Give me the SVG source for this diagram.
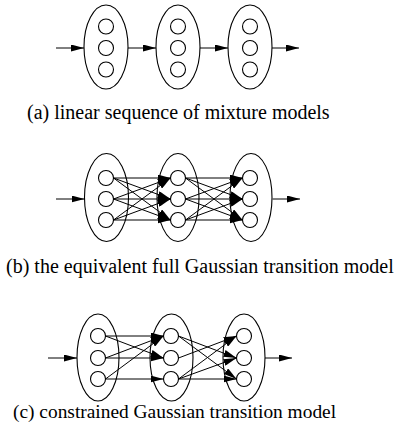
<svg xmlns="http://www.w3.org/2000/svg" width="394" height="437" viewBox="0 0 394 437">
<defs>
<marker id="ah" markerWidth="13" markerHeight="7" refX="13" refY="3.5" orient="auto" markerUnits="userSpaceOnUse">
<path d="M0,0 L13,3.5 L0,7 z" fill="#000"/>
</marker>
<style>
.el{fill:none;stroke:#000;stroke-width:1.1}
.c{fill:#fff;stroke:#000;stroke-width:1.1}
.e{fill:none;stroke:#000;stroke-width:1;marker-end:url(#ah)}
.t{font-family:"Liberation Serif",serif;font-size:20px;fill:#000}
</style>
</defs>
<rect width="394" height="437" fill="#fff"/>
<g id="connectors">
<!-- panel a -->
<line class="e" x1="56" y1="48" x2="84" y2="48"/>
<line class="e" x1="128" y1="48" x2="156" y2="48"/>
<line class="e" x1="200" y1="48" x2="228" y2="48"/>
<line class="e" x1="272" y1="48" x2="299" y2="48"/>
<!-- panel b -->
<line class="e" x1="56" y1="199" x2="84.5" y2="199"/>
<line class="e" x1="272.5" y1="199" x2="300" y2="199"/>
<line class="e" x1="113.5" y1="178" x2="170.5" y2="178"/>
<line class="e" x1="113.5" y1="178" x2="170.5" y2="199"/>
<line class="e" x1="113.5" y1="178" x2="170.5" y2="220"/>
<line class="e" x1="113.5" y1="199" x2="170.5" y2="178"/>
<line class="e" x1="113.5" y1="199" x2="170.5" y2="199"/>
<line class="e" x1="113.5" y1="199" x2="170.5" y2="220"/>
<line class="e" x1="113.5" y1="220" x2="170.5" y2="178"/>
<line class="e" x1="113.5" y1="220" x2="170.5" y2="199"/>
<line class="e" x1="113.5" y1="220" x2="170.5" y2="220"/>
<line class="e" x1="185.5" y1="178" x2="242.5" y2="178"/>
<line class="e" x1="185.5" y1="178" x2="242.5" y2="199"/>
<line class="e" x1="185.5" y1="178" x2="242.5" y2="220"/>
<line class="e" x1="185.5" y1="199" x2="242.5" y2="178"/>
<line class="e" x1="185.5" y1="199" x2="242.5" y2="199"/>
<line class="e" x1="185.5" y1="199" x2="242.5" y2="220"/>
<line class="e" x1="185.5" y1="220" x2="242.5" y2="178"/>
<line class="e" x1="185.5" y1="220" x2="242.5" y2="199"/>
<line class="e" x1="185.5" y1="220" x2="242.5" y2="220"/>
<!-- panel c -->
<line class="e" x1="48" y1="358" x2="77" y2="358"/>
<line class="e" x1="265" y1="358" x2="292" y2="358"/>
<line class="e" x1="105.5" y1="336" x2="163.5" y2="336"/>
<line class="e" x1="105.5" y1="336" x2="163.5" y2="358"/>
<line class="e" x1="105.5" y1="358" x2="163.5" y2="336"/>
<line class="e" x1="105.5" y1="358" x2="163.5" y2="358"/>
<line class="e" x1="105.5" y1="379" x2="163.5" y2="336"/>
<line class="e" x1="105.5" y1="379" x2="163.5" y2="379"/>
<line class="e" x1="178.5" y1="336" x2="236.5" y2="358"/>
<line class="e" x1="178.5" y1="336" x2="236.5" y2="379"/>
<line class="e" x1="178.5" y1="358" x2="236.5" y2="336"/>
<line class="e" x1="178.5" y1="379" x2="236.5" y2="336"/>
<line class="e" x1="178.5" y1="379" x2="236.5" y2="358"/>
<line class="e" x1="178.5" y1="379" x2="236.5" y2="379"/>
</g>
<g id="a1"><ellipse class="el" cx="106" cy="47" rx="22" ry="42"/><circle class="c" cx="106" cy="26.5" r="7.5"/><circle class="c" cx="106" cy="48" r="7.5"/><circle class="c" cx="106" cy="69.5" r="7.5"/></g>
<g id="a2"><ellipse class="el" cx="178" cy="47" rx="22" ry="42"/><circle class="c" cx="178" cy="26.5" r="7.5"/><circle class="c" cx="178" cy="48" r="7.5"/><circle class="c" cx="178" cy="69.5" r="7.5"/></g>
<g id="a3"><ellipse class="el" cx="250" cy="47" rx="22" ry="42"/><circle class="c" cx="250" cy="26.5" r="7.5"/><circle class="c" cx="250" cy="48" r="7.5"/><circle class="c" cx="250" cy="69.5" r="7.5"/></g>
<g id="b1"><ellipse class="el" cx="106.5" cy="197.5" rx="22" ry="44"/><circle class="c" cx="106" cy="178" r="7.5"/><circle class="c" cx="106" cy="199" r="7.5"/><circle class="c" cx="106" cy="220" r="7.5"/></g>
<g id="b2"><ellipse class="el" cx="178" cy="197.5" rx="21" ry="44"/><circle class="c" cx="178" cy="178" r="7.5"/><circle class="c" cx="178" cy="199" r="7.5"/><circle class="c" cx="178" cy="220" r="7.5"/></g>
<g id="b3"><ellipse class="el" cx="251" cy="197.5" rx="21" ry="44"/><circle class="c" cx="250" cy="178" r="7.5"/><circle class="c" cx="250" cy="199" r="7.5"/><circle class="c" cx="250" cy="220" r="7.5"/></g>
<g id="c1"><ellipse class="el" cx="98" cy="357.5" rx="21" ry="43.5"/><circle class="c" cx="98" cy="336" r="7.5"/><circle class="c" cx="98" cy="358" r="7.5"/><circle class="c" cx="98" cy="379" r="7.5"/></g>
<g id="c2"><ellipse class="el" cx="171.5" cy="357.5" rx="21.5" ry="43.5"/><circle class="c" cx="171" cy="336" r="7.5"/><circle class="c" cx="171" cy="358" r="7.5"/><circle class="c" cx="171" cy="379" r="7.5"/></g>
<g id="c3"><ellipse class="el" cx="244" cy="357.5" rx="21" ry="43.5"/><circle class="c" cx="244" cy="336" r="7.5"/><circle class="c" cx="244" cy="358" r="7.5"/><circle class="c" cx="244" cy="379" r="7.5"/></g>
<text class="t" x="27" y="119">(a) linear sequence of mixture models</text>
<text class="t" x="6" y="273">(b) the equivalent full Gaussian transition model</text>
<text class="t" x="13" y="418" style="font-size:19.4px">(c) constrained Gaussian transition model</text>
</svg>
